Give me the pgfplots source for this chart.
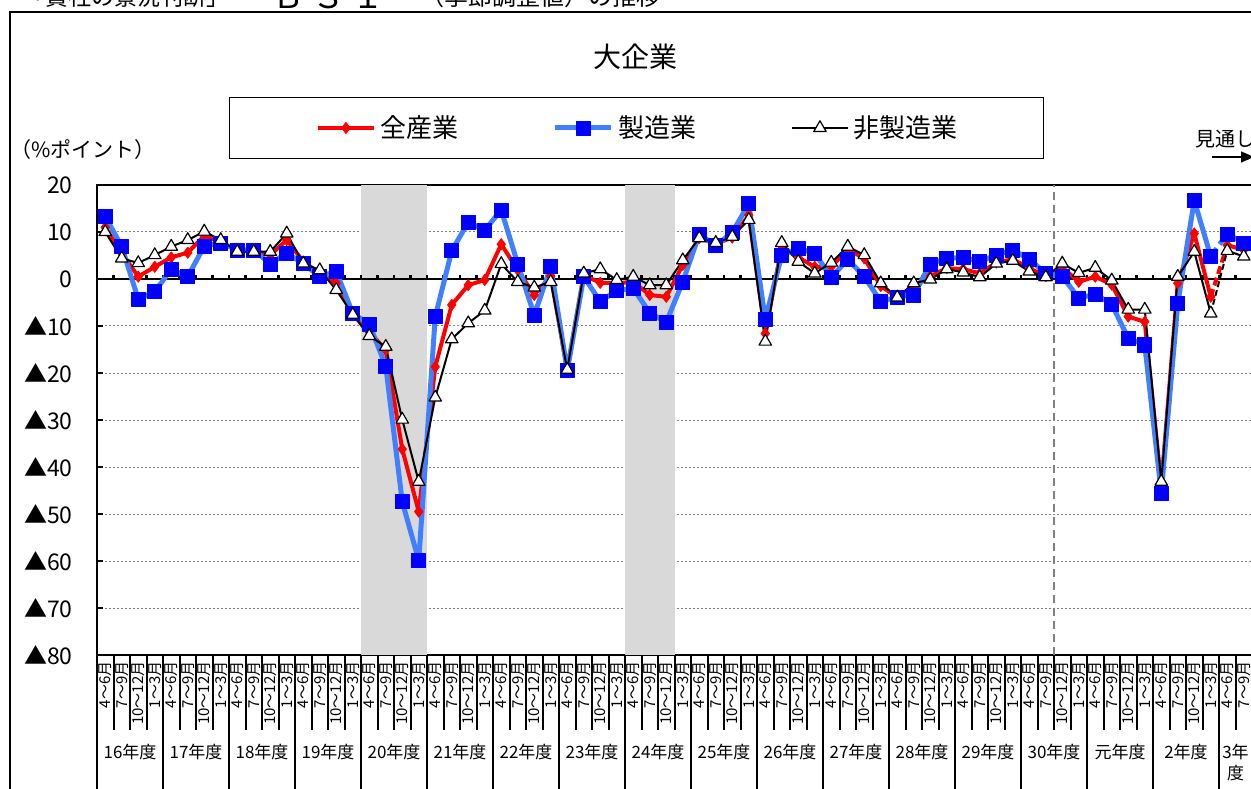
\documentclass[border=0pt]{standalone}
\usepackage{fontspec}
\setmainfont{Noto Sans CJK JP}
\usepackage{pgfplots}
\usepackage{pgfplotstable}
\pgfplotsset{compat=1.18}
\usetikzlibrary{arrows.meta}

\definecolor{mfgline}{RGB}{64,128,255}

% quarter index, 全産業, 製造業, 非製造業
\pgfplotstableread{
q all mfg non
0 11.0 13.3 10.0
1 5.5 6.9 4.4
2 0.5 -4.3 3.4
3 2.6 -2.7 5.1
4 4.6 2.1 6.9
5 5.6 0.5 8.3
6 9.2 7.0 10.1
7 7.9 7.7 8.3
8 6.0 6.2 5.8
9 6.0 6.2 5.8
10 5.1 3.2 5.8
11 8.3 5.5 9.7
12 3.7 3.3 3.3
13 1.2 0.5 1.9
14 -0.9 1.6 -2.3
15 -7.5 -7.3 -7.6
16 -11.2 -9.6 -12.1
17 -15.1 -18.5 -14.4
18 -36.2 -47.4 -29.9
19 -49.5 -59.9 -43.1
20 -18.7 -8.0 -25.2
21 -5.5 6.0 -12.8
22 -1.3 12.1 -9.4
23 -0.2 10.4 -6.7
24 7.4 14.7 3.2
25 1.9 3.2 -0.6
26 -3.4 -7.7 -1.8
27 0.6 2.6 -0.6
28 -19.4 -19.5 -19.3
29 0.8 0.5 1.2
30 -0.8 -4.8 2.1
31 -0.9 -2.5 -0.2
32 -0.6 -2.0 0.5
33 -3.4 -7.2 -1.3
34 -3.8 -9.2 -1.3
35 3.0 -0.6 4.0
36 8.7 9.5 8.7
37 7.5 7.1 7.7
38 8.8 9.9 9.0
39 13.6 16.0 12.6
40 -11.6 -8.6 -13.3
41 7.0 5.1 7.7
42 4.6 6.5 3.7
43 2.6 5.5 1.2
44 2.6 0.3 3.5
45 6.3 4.2 6.9
46 4.4 0.5 5.1
47 -1.5 -4.8 -0.9
48 -3.9 -3.8 -3.9
49 -1.6 -3.4 -0.9
50 0.6 3.2 -0.1
51 2.3 4.4 2.1
52 2.1 4.6 1.4
53 1.2 3.7 0.4
54 3.5 5.1 3.3
55 4.2 6.2 3.9
56 2.3 4.2 1.6
57 0.6 1.2 0.4
58 2.5 0.6 3.3
59 -0.6 -4.1 1.3
60 0.5 -3.2 2.4
61 -1.2 -5.4 -0.3
62 -8.0 -12.6 -6.5
63 -9.1 -14.0 -6.5
64 -43.8 -45.5 -43.1
65 -0.9 -5.2 0.5
66 9.7 16.7 5.8
67 -3.8 4.8 -7.3
68 7.2 9.6 6.0
69 6.2 7.7 4.8
}\bsi

\pgfplotsset{
  allst/.style={color=red, line width=2pt, line join=round,
    mark=diamond*, mark size=2.8pt, mark options={solid, fill=red, draw=red, line width=0.4pt}},
  mfgst/.style={color=mfgline, line width=2.5pt, line join=round,
    mark=square*, mark size=3.5pt, mark options={solid, fill=blue, draw=blue, line width=0.3pt}},
  nonst/.style={color=black, line width=1pt, line join=round,
    mark=triangle*, mark size=3.6pt, mark options={solid, fill=white, draw=black, line width=0.6pt}},
}

\begin{document}
\begin{tikzpicture}
\path[use as bounding box] (0,0) rectangle (625.5pt,394pt);

% outer frame and the cut-off heading
\draw[line width=1pt] (5pt,-20pt) -- (5pt,388pt) -- (700pt,388pt);
\node[anchor=base west, inner sep=0pt, font=\fontsize{11.5}{13}\selectfont] at (11pt,391.4pt) {「貴社の景況判断」};
\node[anchor=base west, inner sep=0pt, font=\fontsize{16}{18}\selectfont] at (136pt,389.5pt) {Ｂ\hspace{4pt}Ｓ\hspace{4pt}Ｉ};
\node[anchor=base west, inner sep=0pt, font=\fontsize{12}{14}\selectfont] at (210pt,391.4pt) {（季節調整値）の推移};

\node[font=\fontsize{14}{16}\selectfont] at (317.5pt,365.5pt) {大企業};
\node[anchor=west, inner sep=0pt, font=\fontsize{10.5}{12}\selectfont] at (5pt,319pt) {（\%ポイント）};

\begin{axis}[
    scale only axis,
    width=594pt, height=235pt,
    at={(48.5pt,66.5pt)}, anchor=south west,
    xmin=-0.5, xmax=71.5,
    ymin=-80, ymax=20,
    clip=false,
    axis line style={line width=1pt, black},
    tick pos=left, tick align=inside,
    xtick={0,...,69},
    xticklabels={
      4～6月,7～9月,10～12月,1～3月, 4～6月,7～9月,10～12月,1～3月,
      4～6月,7～9月,10～12月,1～3月, 4～6月,7～9月,10～12月,1～3月,
      4～6月,7～9月,10～12月,1～3月, 4～6月,7～9月,10～12月,1～3月,
      4～6月,7～9月,10～12月,1～3月, 4～6月,7～9月,10～12月,1～3月,
      4～6月,7～9月,10～12月,1～3月, 4～6月,7～9月,10～12月,1～3月,
      4～6月,7～9月,10～12月,1～3月, 4～6月,7～9月,10～12月,1～3月,
      4～6月,7～9月,10～12月,1～3月, 4～6月,7～9月,10～12月,1～3月,
      4～6月,7～9月,10～12月,1～3月, 4～6月,7～9月,10～12月,1～3月,
      4～6月,7～9月,10～12月,1～3月, 4～6月,7～9月},
    xtick style={draw=none},
    xticklabel style={rotate=90, anchor=east, inner sep=0pt, font=\fontsize{7.5}{8}\selectfont},
    xticklabel shift=3pt,
    ytick={-80,-70,...,20},
    yticklabels={▲80,▲70,▲60,▲50,▲40,▲30,▲20,▲10,0,10,20},
    yticklabel style={anchor=east, inner sep=0pt, font=\fontsize{11.5}{13}\selectfont},
    yticklabel shift=12pt,
    ytick style={black, line width=0.6pt},
    major tick length=3pt,
    ymajorgrids,
    grid style={gray, line width=0.5pt, dash pattern=on 1pt off 1pt},
    legend columns=3,
    legend image code/.code={\draw[mark repeat=2, mark phase=2, #1] plot coordinates {(0pt,0pt) (14pt,0pt) (28pt,0pt)};},
    legend style={at={(0.4545,1.1213)}, anchor=center, draw=black, line width=0.5pt,
      inner xsep=43pt, inner ysep=9pt, font=\fontsize{13}{15}\selectfont,
      nodes={inner sep=0pt},
      /tikz/every even column/.append style={column sep=47pt},
      /tikz/every odd column/.append style={column sep=2.5pt}},
]

% recession bands
\fill[gray!30] (axis cs:15.5,-80) rectangle (axis cs:19.5,20);
\fill[gray!30] (axis cs:31.5,-80) rectangle (axis cs:34.5,20);

% zero line with quarter ticks
\draw[black, line width=1.2pt] (axis cs:-0.5,0) -- (axis cs:71.5,0);
\pgfplotsinvokeforeach{-0.5,0.5,...,70.5}{
  \draw[black, line width=1.2pt] (axis cs:#1,0) -- (axis cs:#1,0.8);
}
% peak marker
\draw[gray, line width=1pt, dash pattern=on 4pt off 2.5pt] (axis cs:57.5,-80) -- (axis cs:57.5,20);

\addplot[allst] table[x=q, y=all, restrict x to domain=0:67] {\bsi};
\addlegendentry{全産業}
\addplot[allst, mark=none, dash pattern=on 4pt off 2pt, forget plot] table[x=q, y=all, restrict x to domain=67:68] {\bsi};
\addplot[allst, forget plot] table[x=q, y=all, restrict x to domain=68:69] {\bsi};

\addplot[mfgst] table[x=q, y=mfg, restrict x to domain=0:67] {\bsi};
\addlegendentry{製造業}
\addplot[mfgst, mark=none, dash pattern=on 5pt off 2.5pt, forget plot] table[x=q, y=mfg, restrict x to domain=67:68] {\bsi};
\addplot[mfgst, forget plot] table[x=q, y=mfg, restrict x to domain=68:69] {\bsi};

\addplot[nonst] table[x=q, y=non, restrict x to domain=0:67] {\bsi};
\addlegendentry{非製造業}
\addplot[nonst, mark=none, dash pattern=on 3pt off 1.5pt, forget plot] table[x=q, y=non, restrict x to domain=67:68] {\bsi};
\addplot[nonst, forget plot] table[x=q, y=non, restrict x to domain=68:69] {\bsi};

\end{axis}

% period table under the axis
\foreach \k in {0,...,69} {
  \draw[line width=1pt] ({48.5pt+8.25pt*\k},66.5pt) -- ++(0,-37.5pt);
}
\foreach \k in {0,4,...,68} {
  \draw[line width=1pt] ({48.5pt+8.25pt*\k},66.5pt) -- ++(0,-80pt);
}
\foreach \n [count=\m from 0] in {16年度,17年度,18年度,19年度,20年度,21年度,22年度,23年度,24年度,25年度,26年度,27年度,28年度,29年度,30年度,元年度,2年度} {
  \node[font=\fontsize{8.5}{10}\selectfont] at ({65pt+33pt*\m},18pt) {\n};
}
\node[font=\fontsize{8.5}{10}\selectfont] at (617.75pt,18pt) {3年};
\node[font=\fontsize{8.5}{10}\selectfont] at (617.75pt,7.5pt) {度};

% outlook marker
\node[anchor=west, inner sep=0pt, font=\fontsize{10}{12}\selectfont] at (597.5pt,324.5pt) {見通し};
\draw[line width=0.7pt, -{Triangle[length=6.5pt, width=5.5pt]}] (606pt,315.5pt) -- (627pt,315.5pt);

\end{tikzpicture}
\end{document}
